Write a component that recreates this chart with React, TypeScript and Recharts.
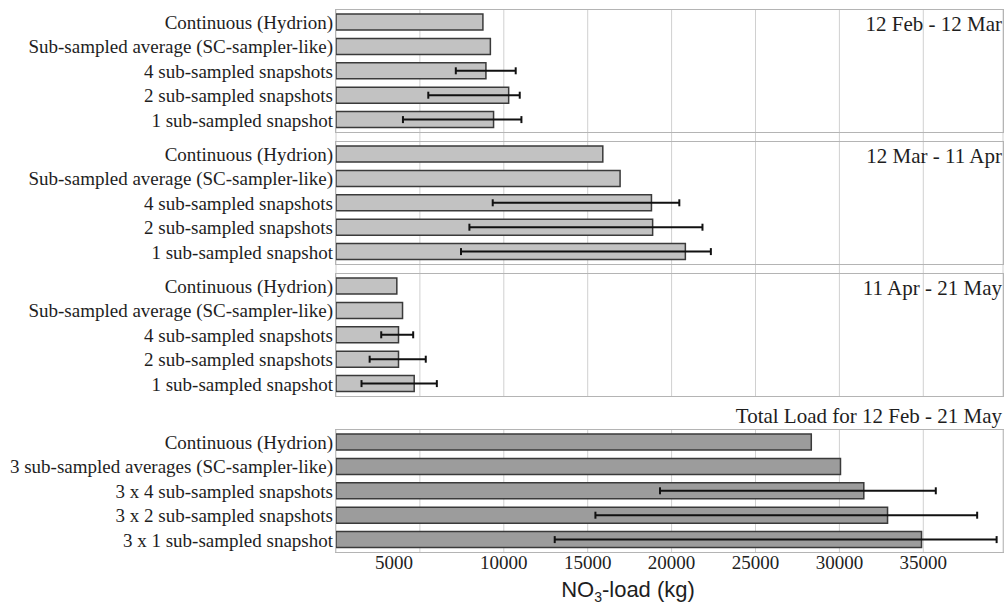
import React from 'react';
import { BarChart, Bar, XAxis, YAxis, CartesianGrid, ErrorBar } from 'recharts';

// row labels
const periodLabels = [
  'Continuous (Hydrion)',
  'Sub-sampled average (SC-sampler-like)',
  '4 sub-sampled snapshots',
  '2 sub-sampled snapshots',
  '1 sub-sampled snapshot',
];
const totalLabels = [
  'Continuous (Hydrion)',
  '3 sub-sampled averages (SC-sampler-like)',
  '3 x 4 sub-sampled snapshots',
  '3 x 2 sub-sampled snapshots',
  '3 x 1 sub-sampled snapshot',
];

const xTicks = [5000, 10000, 15000, 20000, 25000, 30000, 35000];
const X_MAX = 39750;

// NO3 load (kg), with min / max of the snapshot runs
const febLoad = [8755, 9200, 8935, 10290, 9390];
const febLow = [null, null, 7140, 5500, 3990];
const febHigh = [null, null, 10710, 10950, 11050];

const marLoad = [15900, 16930, 18800, 18870, 20820];
const marLow = [null, null, 9340, 7950, 7450];
const marHigh = [null, null, 20460, 21840, 22340];

const aprLoad = [3625, 3965, 3725, 3725, 4660];
const aprLow = [null, null, 2695, 2005, 1520];
const aprHigh = [null, null, 4600, 5350, 6010];

const totalLoad = [28325, 30065, 31455, 32870, 34895];
const totalLow = [null, null, 19310, 15460, 13035];
const totalHigh = [null, null, 35745, 38210, 39370];

const buildRows = (labels: string[], load: number[], low: (number | null)[], high: (number | null)[]) =>
  labels.map((name, i) => ({
    name,
    value: load[i],
    err: low[i] == null || high[i] == null ? null : [load[i] - (low[i] as number), (high[i] as number) - load[i]],
  }));

const febRows = buildRows(periodLabels, febLoad, febLow, febHigh);
const marRows = buildRows(periodLabels, marLoad, marLow, marHigh);
const aprRows = buildRows(periodLabels, aprLoad, aprLow, aprHigh);
const totalRows = buildRows(totalLabels, totalLoad, totalLow, totalHigh);

const SERIF = '"Liberation Serif", "Times New Roman", serif';
const SANS = '"Liberation Sans", Arial, sans-serif';
const W = 1006;
const PLOT_LEFT = 336;
const PLOT_RIGHT_MARGIN = 3;
const PLOT_H = 122;
const AXIS_H = 52;

const XTick = (props: any) => {
  const { x, y, payload } = props;
  // first label sits a bit left of its grid line in the original
  const shift = payload.value === xTicks[0] ? -26 : 0;
  return (
    <text x={x + shift} y={y} dy={14} textAnchor="middle" fontFamily={SERIF} fontSize={19} fill="#222">
      {payload.value}
    </text>
  );
};

interface PanelProps {
  top: number;
  rows: { name: string; value: number; err: number[] | null }[];
  fill: string;
  showAxis?: boolean;
}

const Panel: React.FC<PanelProps> = ({ top, rows, fill, showAxis }) => {
  const h = PLOT_H + (showAxis ? AXIS_H : 0);
  return (
    <div style={{ position: 'absolute', left: 0, top }}>
      <BarChart
        width={W}
        height={h}
        data={rows}
        layout="vertical"
        margin={{ top: 0, right: PLOT_RIGHT_MARGIN, bottom: 0, left: 0 }}
        barSize={16}
      >
        {showAxis && <CartesianGrid horizontal={false} stroke="#d0d0d0" />}
        <XAxis
          type="number"
          domain={[0, X_MAX]}
          ticks={xTicks}
          allowDataOverflow
          hide={!showAxis}
          axisLine={false}
          tickLine={false}
          tickSize={0}
          tickMargin={3}
          height={AXIS_H}
          interval={0}
          tick={(p: any) => <XTick {...p} />}
        />
        <YAxis
          type="category"
          dataKey="name"
          width={PLOT_LEFT}
          axisLine={false}
          tickLine={false}
          tickSize={0}
          tickMargin={3}
          interval={0}
          tick={{ fontFamily: SERIF, fontSize: 19, fill: '#1e1e1e' }}
        />
        <Bar dataKey="value" fill={fill} stroke="#3a3a3a" strokeWidth={1.5} isAnimationActive={false}>
          <ErrorBar dataKey="err" direction="x" width={3.5} stroke="#111" strokeWidth={2} isAnimationActive={false} />
        </Bar>
      </BarChart>
    </div>
  );
};

const panelTops = [10, 142, 274, 430];
const panelTitles = ['12 Feb - 12 Mar', '12 Mar - 11 Apr', '11 Apr - 21 May', 'Total Load for 12 Feb - 21 May'];
const titleBaselines = [31, 163, 295, 423];

export default function App() {
  return (
    <div style={{ position: 'absolute', left: 0, top: 0, width: W, height: 604, background: '#fff', overflow: 'hidden' }}>
      {/* grid lines running through the three period panels */}
      <div style={{ position: 'absolute', left: 0, top: panelTops[0] }}>
        <BarChart
          width={W}
          height={panelTops[2] + PLOT_H - panelTops[0]}
          data={febRows}
          layout="vertical"
          margin={{ top: 0, right: PLOT_RIGHT_MARGIN, bottom: 0, left: PLOT_LEFT }}
        >
          <CartesianGrid horizontal={false} stroke="#d0d0d0" />
          <XAxis type="number" domain={[0, X_MAX]} ticks={xTicks} allowDataOverflow hide />
          <YAxis type="category" dataKey="name" hide />
        </BarChart>
      </div>

      {panelTops.map((t) => (
        <div
          key={t}
          style={{
            position: 'absolute',
            left: PLOT_LEFT - 1,
            top: t - 1,
            width: W - PLOT_RIGHT_MARGIN - PLOT_LEFT + 2,
            height: PLOT_H + 2,
            border: '1.5px solid #b4b4b4',
            boxSizing: 'border-box',
          }}
        />
      ))}

      <Panel top={panelTops[0]} rows={febRows} fill="#c2c2c2" />
      <Panel top={panelTops[1]} rows={marRows} fill="#c2c2c2" />
      <Panel top={panelTops[2]} rows={aprRows} fill="#c2c2c2" />
      <Panel top={panelTops[3]} rows={totalRows} fill="#9c9c9c" showAxis />

      <svg width={W} height={604} style={{ position: 'absolute', left: 0, top: 0, pointerEvents: 'none' }}>
        {panelTitles.map((s, i) => (
          <text key={s} x={1002} y={titleBaselines[i]} textAnchor="end" fontFamily={SERIF} fontSize={21} fill="#1e1e1e">
            {s}
          </text>
        ))}
        <text x={628} y={597} textAnchor="middle" fontFamily={SANS} fontSize={22} fill="#1e1e1e">
          <tspan>NO</tspan>
          <tspan fontSize={14} dy={5}>3</tspan>
          <tspan dy={-5}>-load (kg)</tspan>
        </text>
      </svg>
    </div>
  );
}
